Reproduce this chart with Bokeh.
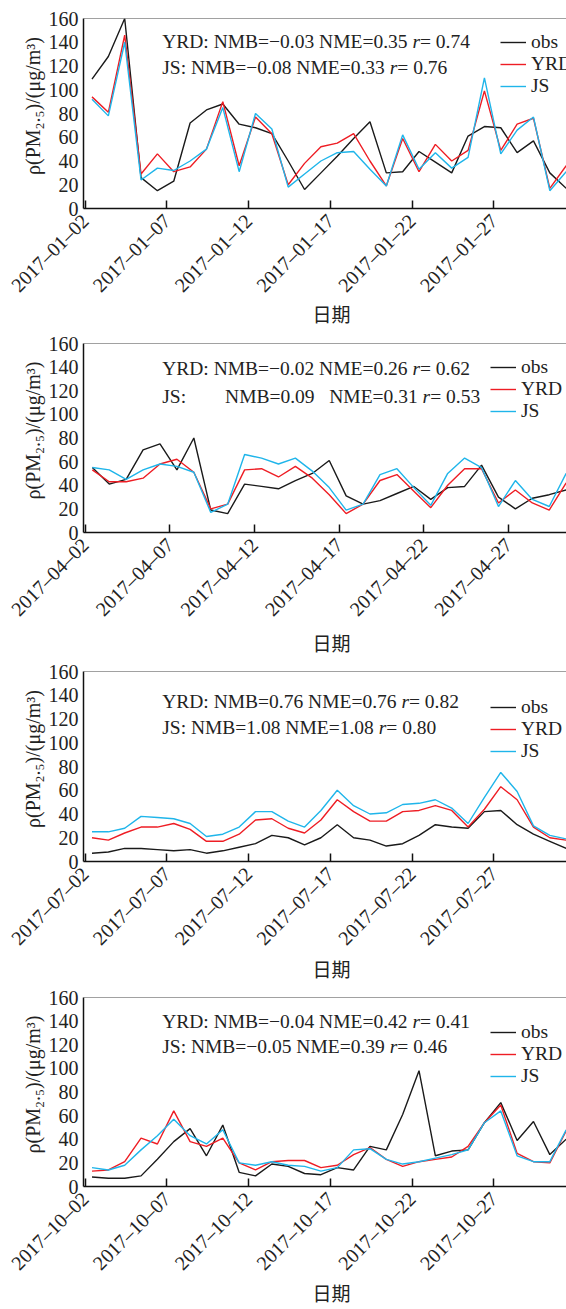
import math
from bokeh.plotting import figure
from bokeh.models import Range1d, FixedTicker, Label, Legend, LegendItem, Span
from bokeh.layouts import column
from bokeh.embed import file_html
from bokeh.resources import INLINE

# ---------------- data ----------------
YEAR = "2017"
MONTHS = ["01", "04", "07", "10"]
TICK_DAYS = [2, 7, 12, 17, 22, 27]
Y_TICKS = [0, 20, 40, 60, 80, 100, 120, 140, 160]

days_jan = list(range(2, 32))
obs_jan = [109, 128, 160, 26, 15, 23, 72, 83, 88, 71, 68, 63, 40, 16, 30, 44, 59, 73, 30, 31,
           48, 39, 30, 61, 69, 68, 47, 57, 30, 17]
yrd_jan = [94, 81, 146, 29, 46, 31, 35, 50, 90, 36, 77, 63, 20, 38, 52, 55, 63, 40, 19, 59,
           31, 54, 40, 49, 99, 49, 71, 76, 17, 36]
js_jan = [92, 78, 140, 24, 34, 32, 40, 50, 85, 31, 80, 67, 18, 29, 40, 47, 48, 33, 19, 62,
          33, 47, 34, 43, 110, 46, 66, 77, 15, 31]

days_apr = list(range(2, 31))
obs_apr = [55, 41, 45, 70, 75, 53, 80, 19, 16, 41, 39, 37, 44, 50, 61, 31, 24, 27, 33, 39,
           28, 38, 39, 57, 30, 20, 29, 32, 36]
yrd_apr = [53, 43, 43, 46, 58, 62, 51, 20, 24, 53, 54, 47, 56, 46, 32, 16, 24, 44, 49, 35,
           21, 40, 54, 54, 25, 36, 25, 19, 42]
js_apr = [55, 53, 45, 53, 58, 56, 51, 17, 24, 66, 63, 58, 63, 52, 38, 19, 24, 49, 54, 38,
          23, 50, 63, 55, 22, 44, 28, 22, 50]

days_jul = list(range(2, 32))
obs_jul = [7, 8, 11, 11, 10, 9, 10, 7, 9, 12, 15, 22, 20, 14, 20, 31, 20, 18, 13, 15,
           22, 31, 29, 28, 42, 43, 31, 23, 17, 11]
yrd_jul = [20, 18, 24, 29, 29, 32, 27, 17, 17, 23, 35, 36, 28, 24, 35, 52, 42, 34, 34, 42,
           43, 47, 43, 29, 44, 63, 52, 29, 20, 18]
js_jul = [25, 25, 28, 38, 37, 36, 32, 21, 23, 29, 42, 42, 34, 29, 43, 60, 47, 40, 41, 48,
          49, 52, 45, 32, 54, 75, 59, 30, 22, 19]

days_oct = list(range(2, 32))
obs_oct = [8, 7, 7, 9, 23, 38, 49, 26, 52, 12, 9, 19, 17, 11, 10, 16, 14, 34, 31, 61,
           98, 26, 30, 31, 54, 71, 39, 55, 27, 40]
yrd_oct = [13, 14, 21, 41, 36, 64, 38, 34, 41, 20, 14, 21, 22, 22, 16, 18, 27, 33, 23, 17,
           21, 23, 25, 34, 54, 69, 28, 21, 20, 47]
js_oct = [16, 14, 18, 31, 43, 57, 43, 36, 48, 20, 18, 21, 18, 17, 13, 16, 31, 32, 23, 19,
          21, 24, 27, 31, 54, 64, 26, 21, 21, 48]

stats_text = [
    ["YRD: NMB=−0.03 NME=0.35 *r*= 0.74", "JS: NMB=−0.08 NME=0.33 *r*= 0.76"],
    ["YRD: NMB=−0.02 NME=0.26 *r*= 0.62", "JS:        NMB=0.09   NME=0.31 *r*= 0.53"],
    ["YRD: NMB=0.76 NME=0.76 *r*= 0.82", "JS: NMB=1.08 NME=1.08 *r*= 0.80"],
    ["YRD: NMB=−0.04 NME=0.42 *r*= 0.41", "JS: NMB=−0.05 NME=0.39 *r*= 0.46"],
]
SERIES_NAMES = ["obs", "YRD", "JS"]
X_LABEL = "日期"
Y_LABEL = "ρ(PM₂.₅)/(μg/m³)"

# ---------------- style ----------------
COLORS = ["#1a1a1a", "#ee1d24", "#1fb5ea"]
SERIF = "Liberation Serif"
CJK = "Noto Sans CJK SC"
FS = 19.5
NBSP = "\u00a0"
POINT_OFFSET = 0.42  # points sit a little right of the date ticks

LAYOUT = [
    dict(h=331, top=18, bottom=123, text_y=[22.5, 49], leg=(417, 111.5), xl_stand=-7),
    dict(h=329, top=12, bottom=128, text_y=[24.6, 52.5], leg=(407, 110.5), xl_stand=-2),
    dict(h=326, top=11, bottom=125, text_y=[30, 55.6], leg=(407, 99), xl_stand=-5),
    dict(h=323, top=11, bottom=123, text_y=[24, 49], leg=(407, 99), xl_stand=-6),
]

W = {' ': 250, ':': 278, '=': 564, '−': 564, '.': 250, 'Y': 722, 'R': 667, 'D': 722,
     'N': 722, 'M': 889, 'B': 667, 'E': 611, 'J': 389, 'S': 556}
for _d in "0123456789":
    W[_d] = 500
W_IT = {'r': 389}


def tw(s, italic=False, size=FS):
    table = W_IT if italic else W
    return sum(table.get(c, W.get(c, 500)) for c in s) * size / 1000.0


def add_text_line(p, text, x0, y):
    x = x0
    for k, part in enumerate(text.split("*")):
        italic = (k % 2 == 1)
        words = part.split(" ")
        for j, w in enumerate(words):
            if j > 0:
                x += tw(" ")
            if w:
                p.add_layout(Label(x=x, y=y, x_units="screen", y_units="screen", text=w,
                                   text_font=SERIF, text_font_size=f"{FS}px",
                                   text_font_style="italic" if italic else "normal",
                                   text_color="#222222", text_baseline="alphabetic",
                                   text_align="left"))
                x += tw(w, italic)


panels = [
    (MONTHS[0], days_jan, [obs_jan, yrd_jan, js_jan]),
    (MONTHS[1], days_apr, [obs_apr, yrd_apr, js_apr]),
    (MONTHS[2], days_jul, [obs_jul, yrd_jul, js_jul]),
    (MONTHS[3], days_oct, [obs_oct, yrd_oct, js_oct]),
]

figs = []
for idx, (mon, days, series) in enumerate(panels):
    lay = LAYOUT[idx]
    xs = [d + POINT_OFFSET for d in days]
    frame_h = lay["h"] - lay["top"] - lay["bottom"]
    p = figure(width=566, height=lay["h"], output_backend="svg", toolbar_location=None,
               x_range=Range1d(xs[0] - 0.52, xs[-1] + 0.02), y_range=Range1d(0, 160),
               min_border_left=83, min_border_right=0, min_border_top=lay["top"],
               min_border_bottom=lay["bottom"])
    p.outline_line_color = None
    p.background_fill_color = "white"
    p.border_fill_color = "white"
    p.xgrid.visible = False
    p.ygrid.visible = False

    renderers = []
    for vals, col in zip(series, COLORS):
        r = p.line(xs, vals, line_color=col, line_width=1.4)
        renderers.append(r)

    # top frame line
    p.add_layout(Span(location=160, dimension="width", line_color="#444444", line_width=1.2))

    xa = p.xaxis[0]
    xa.ticker = FixedTicker(ticks=TICK_DAYS, minor_ticks=[])
    xa.major_label_overrides = {d: f"{YEAR}–{mon}–{d:02d}" for d in TICK_DAYS}
    xa.major_label_orientation = math.pi / 4
    xa.major_label_text_font = SERIF
    xa.major_label_text_font_size = "20px"
    xa.major_label_text_color = "#222222"
    xa.major_tick_in = 8
    xa.major_tick_out = 0
    xa.minor_tick_in = 0
    xa.minor_tick_out = 0
    xa.axis_line_width = 1.5
    xa.axis_line_color = "#111111"
    xa.major_tick_line_width = 1.5
    xa.major_tick_line_color = "#111111"
    xa.major_label_standoff = 9
    xa.axis_label = NBSP * 3 + X_LABEL
    xa.axis_label_text_font = CJK
    xa.axis_label_text_font_size = "19px"
    xa.axis_label_text_font_style = "normal"
    xa.axis_label_text_color = "#222222"
    xa.axis_label_standoff = lay["xl_stand"]

    ya = p.yaxis[0]
    ya.ticker = FixedTicker(ticks=Y_TICKS, minor_ticks=[])
    ya.major_label_text_font = SERIF
    ya.major_label_text_font_size = "20px"
    ya.major_label_text_color = "#222222"
    ya.major_tick_in = 0
    ya.major_tick_out = 0
    ya.minor_tick_in = 0
    ya.minor_tick_out = 0
    ya.axis_line_width = 1.5
    ya.axis_line_color = "#111111"
    ya.major_label_standoff = 5
    ya.axis_label = NBSP * 3 + Y_LABEL
    ya.axis_label_text_font = SERIF
    ya.axis_label_text_font_size = "20px"
    ya.axis_label_text_font_style = "normal"
    ya.axis_label_text_color = "#222222"
    ya.axis_label_standoff = 2

    # statistics text
    for line, ty in zip(stats_text[idx], lay["text_y"]):
        add_text_line(p, line, 78.7, frame_h - ty)

    # legend
    leg = Legend(items=[LegendItem(label=n, renderers=[r]) for n, r in zip(SERIES_NAMES, renderers)],
                 location=lay["leg"], orientation="vertical",
                 label_text_font=SERIF, label_text_font_size=f"{FS}px",
                 label_text_color="#222222",
                 glyph_width=26, glyph_height=20, label_height=20, spacing=-2,
                 label_standoff=5, padding=0, margin=0,
                 border_line_color=None, background_fill_alpha=0)
    p.add_layout(leg, "center")
    figs.append(p)

layout = column(*figs, spacing=0)
open("out.html", "w").write(file_html(layout, INLINE))
